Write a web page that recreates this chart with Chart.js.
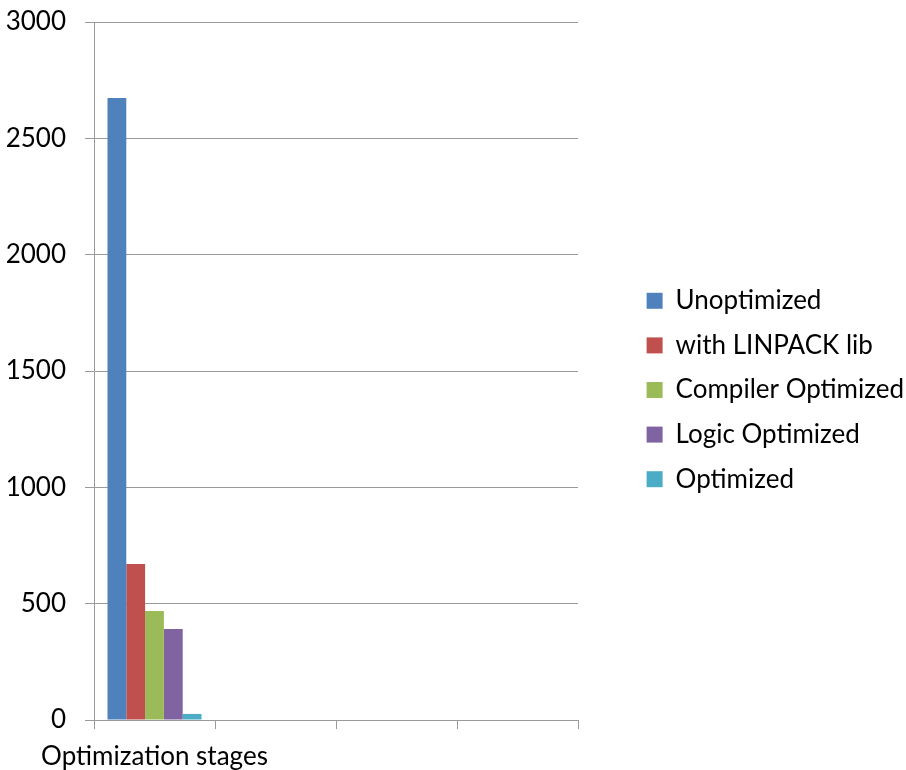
<!DOCTYPE html>
<html>
<head>
<meta charset="utf-8">
<script src="https://cdn.jsdelivr.net/npm/chart.js@4.4.1/dist/chart.umd.min.js"></script>
<style>
  html, body { margin: 0; padding: 0; background: #fff; overflow: hidden; }
  #wrap { width: 906px; height: 770px; }
</style>
</head>
<body>
<div id="wrap"><canvas id="chart" width="906" height="770"></canvas></div>
<script>
// values
const categories = ['Optimization stages', '', '', ''];
const seriesNames = ['Unoptimized', 'with LINPACK lib', 'Compiler Optimized', 'Logic Optimized', 'Optimized'];
const unoptimized = [2673, null, null, null];
const withLinpack = [670, null, null, null];
const compilerOptimized = [468, null, null, null];
const logicOptimized = [391, null, null, null];
const optimized = [26, null, null, null];
const yTicks = [0, 500, 1000, 1500, 2000, 2500, 3000];

const seriesColours = ['#4F81BD', '#C0504D', '#9BBB59', '#8064A2', '#4BACC6'];
const gridColour = '#9a9a9a';
const fontFamily = 'Lato, "Open Sans", sans-serif';

const seriesValues = [unoptimized, withLinpack, compilerOptimized, logicOptimized, optimized];

const ctx = document.getElementById('chart').getContext('2d');

new Chart(ctx, {
  type: 'bar',
  data: {
    labels: categories,
    datasets: seriesNames.map((name, i) => ({
      label: name,
      data: seriesValues[i],
      backgroundColor: seriesColours[i],
      borderWidth: 0,
      categoryPercentage: 0.777,
      barPercentage: 1,
    })),
  },
  options: {
    responsive: false,
    animation: false,
    devicePixelRatio: 1,
    layout: {
      padding: { top: 10, left: 0, right: 0, bottom: 0 },
    },
    scales: {
      x: {
        offset: true,
        grid: {
          offset: true,
          drawOnChartArea: false,
          drawTicks: true,
          tickLength: 9,
          color: gridColour,
        },
        border: { color: gridColour },
        ticks: {
          autoSkip: false,
          maxRotation: 0,
          minRotation: 0,
          padding: 12,
          color: '#000',
          font: { family: fontFamily, size: 26 },
        },
        afterFit: (scale) => { scale.height = 50; },
      },
      y: {
        min: 0,
        max: 3000,
        afterBuildTicks: (scale) => {
          scale.ticks = yTicks.map((v) => ({ value: v }));
        },
        grid: {
          color: gridColour,
          tickLength: 9,
        },
        border: { color: gridColour },
        ticks: {
          padding: 19,
          color: '#000',
          font: { family: fontFamily, size: 26 },
          callback: (value) => String(value),
        },
        afterFit: (scale) => {
          scale.width = 94;
          // plot top sits at y=22, legend keeps the outer padding
          scale.paddingTop = 22;
          scale.paddingBottom = 0;
        },
      },
      // empty axis that only keeps the gap between plot and legend
      gap: {
        type: 'linear',
        position: 'right',
        display: true,
        grid: { display: false },
        border: { display: false },
        ticks: { display: false },
        afterFit: (scale) => { scale.width = 50; },
      },
    },
    plugins: {
      tooltip: { enabled: false },
      legend: {
        position: 'right',
        align: 'center',
        maxWidth: 278,
        labels: {
          boxWidth: 16,
          boxHeight: 16,
          padding: 18.6,
          color: '#000',
          font: { family: fontFamily, size: 26 },
        },
      },
    },
  },
});
</script>
</body>
</html>
